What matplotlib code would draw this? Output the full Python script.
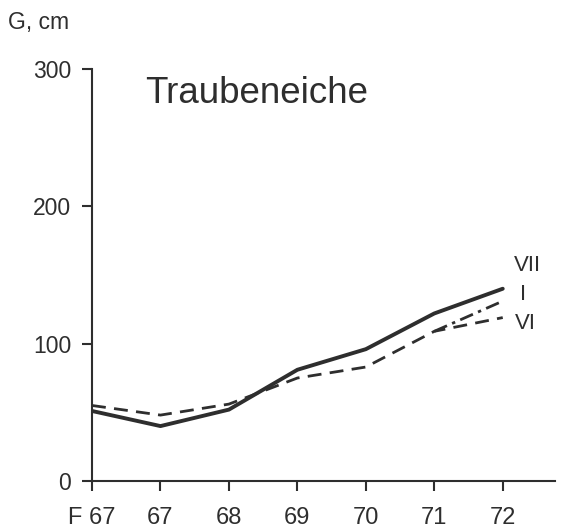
import matplotlib.pyplot as plt
import numpy as np

plt.rcParams['font.family'] = ['Liberation Sans', 'DejaVu Sans']

# Data
labels = ["F 67", "67", "68", "69", "70", "71", "72"]
vii = [51, 40, 52, 81, 96, 122, 140]
vi = [55, 48, 56, 75, 83, 109, 119]
i_ser = [np.nan, np.nan, np.nan, np.nan, np.nan, 109, 131]
series_names = ["VII", "I", "VI"]

x = np.arange(len(labels))
col = "#2e2e2e"

fig = plt.figure(figsize=(5.69, 5.29), dpi=100)
ax = fig.add_axes([0.1617, 0.0907, 0.8133, 0.7789])

ax.plot(x, vii, color=col, lw=2.8, solid_capstyle="round")
ax.plot(x, vi, color=col, lw=2.0, dashes=(5, 3))
ax.plot(x, i_ser, color=col, lw=2.0, dashes=(5, 2, 1.2, 2))

# Series labels at the right end
ax.text(6.17, 157, series_names[0], fontsize=16, color=col, va="center")
ax.text(6.25, 136, series_names[1], fontsize=16, color=col, va="center")
ax.text(6.18, 115, series_names[2], fontsize=16, color=col, va="center")

ax.text(0.77, 275, "Traubeneiche", fontsize=26.5, color=col, va="baseline")

ax.set_xlim(0, 6.76)
ax.set_ylim(0, 300)
ax.set_xticks(x)
ax.set_xticklabels(labels)
ax.set_yticks([0, 100, 200, 300])

for s in ["top", "right"]:
    ax.spines[s].set_visible(False)
for s in ["left", "bottom"]:
    ax.spines[s].set_color(col)
    ax.spines[s].set_linewidth(1.5)

ax.tick_params(colors=col, labelsize=16.5, length=7, width=1.5)
ax.tick_params(axis="x", pad=12, labelsize=17)
ax.tick_params(axis="y", pad=8)

fig.text(0.014, 0.958, "G, cm", fontsize=16.5, color=col, va="center")

plt.savefig("out.png", dpi=100)
